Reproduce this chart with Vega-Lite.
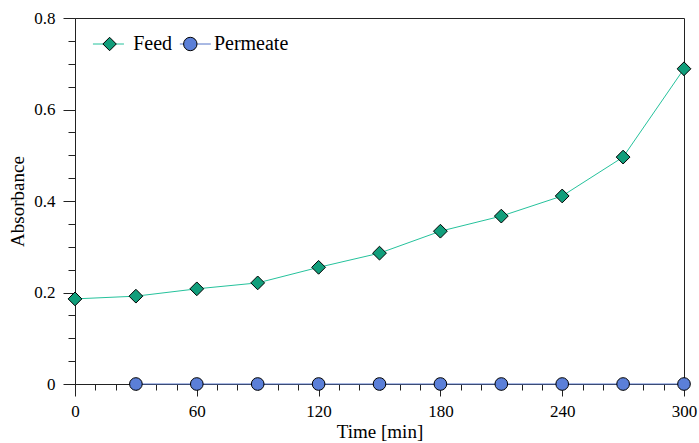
{
  "$schema": "https://vega.github.io/schema/vega-lite/v6.json",
  "width": 609,
  "height": 366,
  "autosize": "none",
  "padding": {"left": 75, "top": 18, "right": 15, "bottom": 59},
  "background": "white",
  "config": {
    "view": {"stroke": "#222", "strokeWidth": 1},
    "font": "Liberation Serif",
    "axis": {"labelFont": "Liberation Serif", "titleFont": "Liberation Serif", "labelFontSize": 17, "titleFontSize": 19, "labelColor": "black", "titleColor": "black", "titleFontWeight": "normal", "domainColor": "#222", "tickColor": "#222", "grid": false},
    "legend": {"labelFont": "Liberation Serif", "labelFontSize": 20, "labelColor": "black", "padding": 0}
  },
  "data": {"values": [
    {"series": "Feed", "time": 0, "absorbance": 0.186},
    {"series": "Feed", "time": 30, "absorbance": 0.192},
    {"series": "Feed", "time": 60, "absorbance": 0.208},
    {"series": "Feed", "time": 90, "absorbance": 0.221},
    {"series": "Feed", "time": 120, "absorbance": 0.255},
    {"series": "Feed", "time": 150, "absorbance": 0.286},
    {"series": "Feed", "time": 180, "absorbance": 0.334},
    {"series": "Feed", "time": 210, "absorbance": 0.367},
    {"series": "Feed", "time": 240, "absorbance": 0.411},
    {"series": "Feed", "time": 270, "absorbance": 0.496},
    {"series": "Feed", "time": 300, "absorbance": 0.689},
    {"series": "Permeate", "time": 30, "absorbance": 0},
    {"series": "Permeate", "time": 60, "absorbance": 0},
    {"series": "Permeate", "time": 90, "absorbance": 0},
    {"series": "Permeate", "time": 120, "absorbance": 0},
    {"series": "Permeate", "time": 150, "absorbance": 0},
    {"series": "Permeate", "time": 180, "absorbance": 0},
    {"series": "Permeate", "time": 210, "absorbance": 0},
    {"series": "Permeate", "time": 240, "absorbance": 0},
    {"series": "Permeate", "time": 270, "absorbance": 0},
    {"series": "Permeate", "time": 300, "absorbance": 0}
  ]},
  "resolve": {"axis": {"x": "independent", "y": "independent"}},
  "layer": [
    {
      "mark": {"type": "line", "strokeWidth": 1},
      "encoding": {
        "x": {"field": "time", "type": "quantitative", "scale": {"domain": [0, 300], "nice": false},
          "axis": {"orient": "bottom", "values": [0, 60, 120, 180, 240, 300], "tickSize": 12, "labelPadding": 7, "title": "Time [min]", "titlePadding": 3, "labelFlush": false}},
        "y": {"field": "absorbance", "type": "quantitative", "scale": {"domain": [0, 0.8], "nice": false},
          "axis": {"orient": "left", "values": [0, 0.2, 0.4, 0.6, 0.8], "tickSize": 12, "labelPadding": 8, "title": "Absorbance", "titlePadding": 6, "labelExpr": "datum.value == 0 ? '0' : format(datum.value, '.1f')", "labelFlush": false}},
        "stroke": {"field": "series", "type": "nominal", "scale": {"domain": ["Feed", "Permeate"], "range": ["#25c29c", "#5575c8"]},
          "legend": {"orient": "top-left", "offset": 9.5, "direction": "horizontal", "title": null, "symbolType": "M-0.52,0H1.48", "symbolSize": 961, "symbolStrokeWidth": 1, "labelOffset": 4, "columnPadding": 45.9, "labelExpr": "''"}}
      }
    },
    {
      "transform": [{"calculate": "datum.series", "as": "name"}],
      "mark": {"type": "point", "filled": true, "stroke": "black", "strokeWidth": 1, "opacity": 1},
      "encoding": {
        "x": {"field": "time", "type": "quantitative",
          "axis": {"orient": "bottom", "values": [10, 20, 30, 40, 50, 70, 80, 90, 100, 110, 130, 140, 150, 160, 170, 190, 200, 210, 220, 230, 250, 260, 270, 280, 290], "tickSize": 6, "labels": false, "domain": false, "title": null}},
        "y": {"field": "absorbance", "type": "quantitative",
          "axis": {"orient": "left", "values": [0.05, 0.1, 0.15, 0.25, 0.3, 0.35, 0.45, 0.5, 0.55, 0.65, 0.7, 0.75], "tickSize": 7, "labels": false, "domain": false, "title": null}},
        "fill": {"field": "name", "type": "nominal", "scale": {"range": ["#119e7b", "#5b7fd8"]},
          "legend": {"orient": "none", "legendX": 24.6, "legendY": 16, "direction": "horizontal", "title": null, "symbolStrokeColor": "black", "symbolStrokeWidth": 1, "symbolSize": 180, "labelOffset": 13.6, "columnPadding": 7.7}},
        "shape": {"field": "name", "type": "nominal", "scale": {"range": ["diamond", "circle"]}},
        "size": {"field": "series", "type": "nominal", "scale": {"range": [190, 160]}, "legend": null}
      }
    }
  ]
}
